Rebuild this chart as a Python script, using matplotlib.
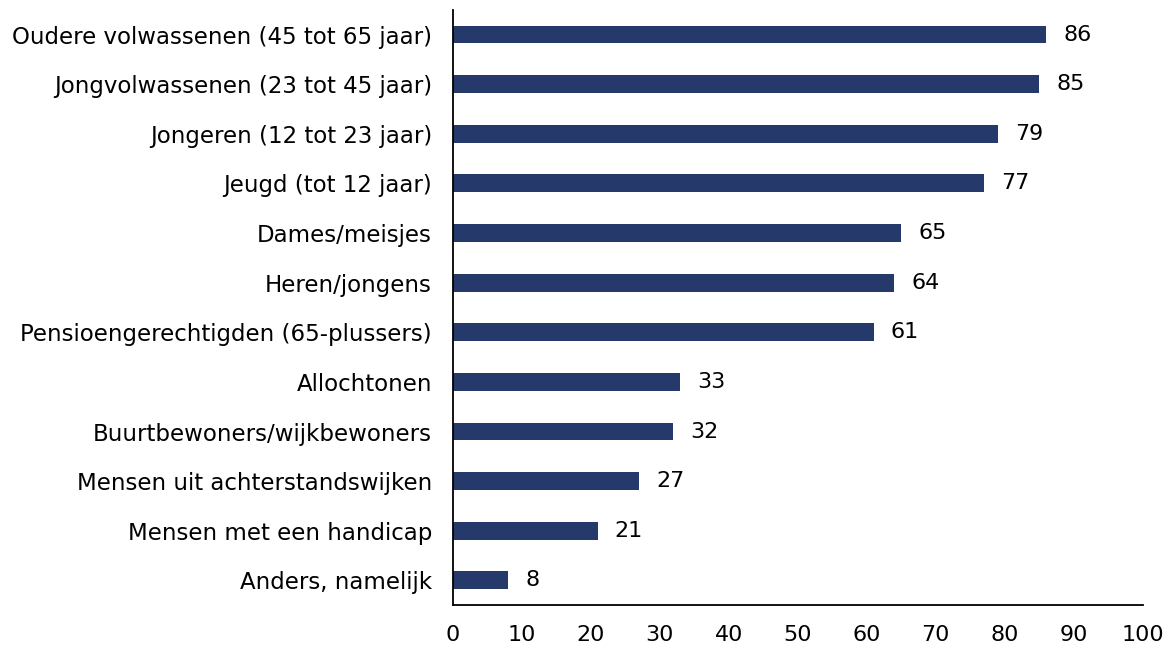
import matplotlib.pyplot as plt

categories = [
    "Oudere volwassenen (45 tot 65 jaar)",
    "Jongvolwassenen (23 tot 45 jaar)",
    "Jongeren (12 tot 23 jaar)",
    "Jeugd (tot 12 jaar)",
    "Dames/meisjes",
    "Heren/jongens",
    "Pensioengerechtigden (65-plussers)",
    "Allochtonen",
    "Buurtbewoners/wijkbewoners",
    "Mensen uit achterstandswijken",
    "Mensen met een handicap",
    "Anders, namelijk",
]
values = [86, 85, 79, 77, 65, 64, 61, 33, 32, 27, 21, 8]
xticks = [0, 10, 20, 30, 40, 50, 60, 70, 80, 90, 100]

fig = plt.figure(figsize=(11.73, 6.48), dpi=100)
ax = fig.add_axes([0.386, 0.066, 0.588, 0.919])

pos = list(range(len(categories)))
ax.barh(pos, values, height=0.36, color="#253A6B")

for p, v in zip(pos, values):
    ax.text(v + 2.5, p, str(v), va="center", ha="left", fontsize=16)

ax.set_yticks(pos)
ax.set_yticklabels(categories, fontsize=16.5)
ax.set_ylim(len(categories) - 0.5, -0.5)
ax.set_xlim(0, 100)
ax.set_xticks(xticks)
ax.set_xticklabels([str(t) for t in xticks], fontsize=16)
ax.tick_params(length=0)
ax.tick_params(axis="y", pad=15)
ax.tick_params(axis="x", pad=14)

ax.spines["top"].set_visible(False)
ax.spines["right"].set_visible(False)
ax.spines["left"].set_linewidth(1.3)
ax.spines["bottom"].set_linewidth(1.3)

fig.savefig("out.png", dpi=100)
